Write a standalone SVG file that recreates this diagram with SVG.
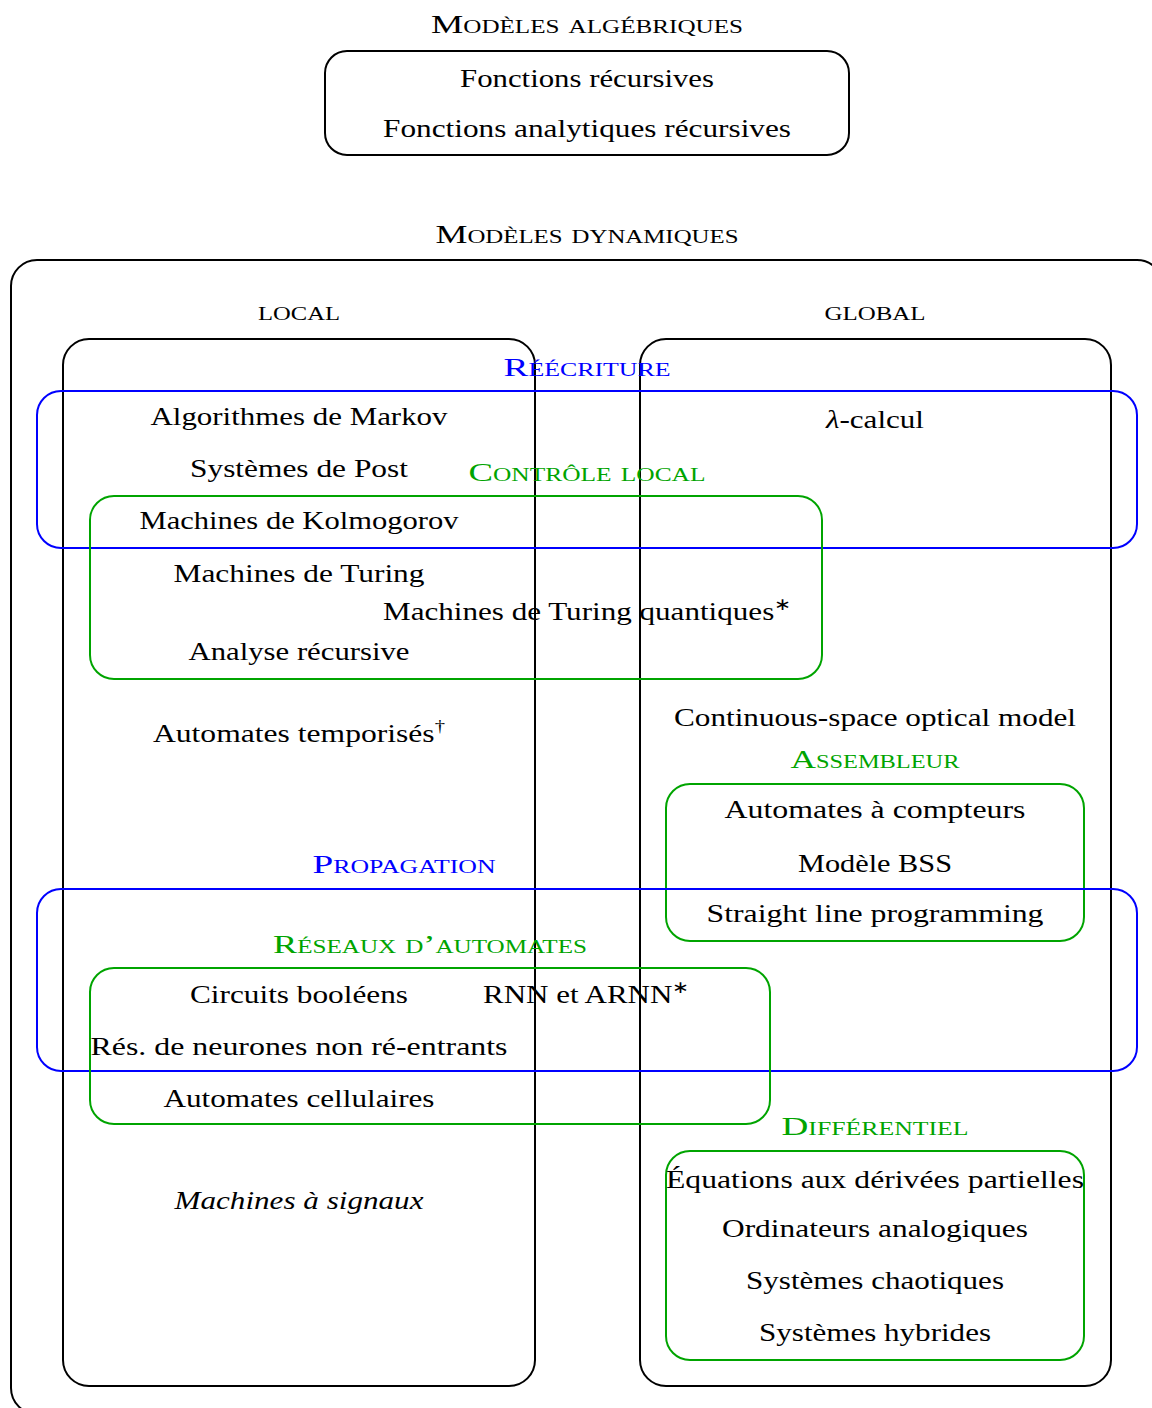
<svg xmlns="http://www.w3.org/2000/svg" width="1152" height="1408" viewBox="0 0 1152 1408">
<style>
text{font-family:"Liberation Serif","Times New Roman",serif;font-size:26px;fill:#000;text-anchor:middle}
.sc{font-variant:small-caps}
.blue{fill:#0000ff}
.green{fill:#00a400}
.it{font-style:italic}
.bk{fill:none;stroke:#000;stroke-width:2}
.bb{fill:none;stroke:#0000ff;stroke-width:2}
.gb{fill:none;stroke:#00a400;stroke-width:2}
</style>
<rect width="1152" height="1408" fill="#fff"/>
<g id="algebriques">
<text class="sc" x="587" y="33" textLength="312" lengthAdjust="spacingAndGlyphs">Modèles algébriques</text>
<rect class="bk" x="325" y="51" width="524" height="104" rx="22"/>
<text x="587" y="87" textLength="254" lengthAdjust="spacingAndGlyphs">Fonctions récursives</text>
<text x="587" y="137" textLength="408" lengthAdjust="spacingAndGlyphs">Fonctions analytiques récursives</text>
</g>
<g id="dynamiques">
<text class="sc" x="587" y="243" textLength="303" lengthAdjust="spacingAndGlyphs">Modèles dynamiques</text>
<rect class="bk" x="11" y="260" width="1152" height="1154" rx="26"/>
</g>
<g id="local">
<text class="sc" x="299" y="320" textLength="82" lengthAdjust="spacingAndGlyphs">local</text>
<rect class="bk" x="63" y="339" width="472" height="1047" rx="26"/>
</g>
<g id="global">
<text class="sc" x="875" y="320" textLength="101" lengthAdjust="spacingAndGlyphs">global</text>
<rect class="bk" x="640" y="339" width="471" height="1047" rx="26"/>
</g>
<g id="reecriture">
<text class="sc blue" x="587" y="376" textLength="167" lengthAdjust="spacingAndGlyphs">Réécriture</text>
<rect class="bb" x="37" y="391" width="1100" height="157" rx="24"/>
</g>
<g id="controle-local">
<text class="sc green" x="587" y="481" textLength="237" lengthAdjust="spacingAndGlyphs">Contrôle local</text>
<rect class="gb" x="90" y="496" width="732" height="183" rx="24"/>
</g>
<g id="assembleur">
<text class="sc green" x="875" y="768" textLength="169" lengthAdjust="spacingAndGlyphs">Assembleur</text>
<rect class="gb" x="666" y="784" width="418" height="157" rx="24"/>
</g>
<g id="propagation">
<text class="sc blue" x="404" y="873" textLength="183" lengthAdjust="spacingAndGlyphs">Propagation</text>
<rect class="bb" x="37" y="889" width="1100" height="182" rx="24"/>
</g>
<g id="reseaux">
<text class="sc green" x="430" y="953" textLength="314" lengthAdjust="spacingAndGlyphs">Réseaux d’automates</text>
<rect class="gb" x="90" y="968" width="680" height="156" rx="24"/>
</g>
<g id="differentiel">
<text class="sc green" x="875" y="1135" textLength="187" lengthAdjust="spacingAndGlyphs">Différentiel</text>
<rect class="gb" x="666" y="1151" width="418" height="209" rx="24"/>
</g>
<g id="models">
<text id="markov" x="299" y="425" textLength="297" lengthAdjust="spacingAndGlyphs">Algorithmes de Markov</text>
<text id="lambda" x="875" y="428" textLength="98" lengthAdjust="spacingAndGlyphs"><tspan font-style="italic">λ</tspan>-calcul</text>
<text id="post" x="299" y="477" textLength="218" lengthAdjust="spacingAndGlyphs">Systèmes de Post</text>
<text id="kolmogorov" x="299" y="529" textLength="319" lengthAdjust="spacingAndGlyphs">Machines de Kolmogorov</text>
<text id="turing" x="299" y="582" textLength="251" lengthAdjust="spacingAndGlyphs">Machines de Turing</text>
<text id="turing-q" x="587" y="620" textLength="408" lengthAdjust="spacingAndGlyphs">Machines de Turing quantiques<tspan font-size="17" dy="-10">∗</tspan></text>
<text id="analyse" x="299" y="660" textLength="221" lengthAdjust="spacingAndGlyphs">Analyse récursive</text>
<text id="temporises" x="299" y="742" textLength="292" lengthAdjust="spacingAndGlyphs">Automates temporisés<tspan font-size="17" dy="-10">†</tspan></text>
<text id="optical" x="875" y="726" textLength="402" lengthAdjust="spacingAndGlyphs">Continuous-space optical model</text>
<text id="compteurs" x="875" y="818" textLength="301" lengthAdjust="spacingAndGlyphs">Automates à compteurs</text>
<text id="bss" x="875" y="872" textLength="154" lengthAdjust="spacingAndGlyphs">Modèle BSS</text>
<text id="slp" x="875" y="922" textLength="337" lengthAdjust="spacingAndGlyphs">Straight line programming</text>
<text id="circuits" x="299" y="1003" textLength="218" lengthAdjust="spacingAndGlyphs">Circuits booléens</text>
<text id="rnn" x="586" y="1003" textLength="206" lengthAdjust="spacingAndGlyphs">RNN et ARNN<tspan font-size="17" dy="-10">∗</tspan></text>
<text id="neurones" x="299" y="1055" textLength="417" lengthAdjust="spacingAndGlyphs">Rés. de neurones non ré-entrants</text>
<text id="cellulaires" x="299" y="1107" textLength="271" lengthAdjust="spacingAndGlyphs">Automates cellulaires</text>
<text id="edp" x="875" y="1188" textLength="418" lengthAdjust="spacingAndGlyphs">Équations aux dérivées partielles</text>
<text id="analogiques" x="875" y="1237" textLength="306" lengthAdjust="spacingAndGlyphs">Ordinateurs analogiques</text>
<text id="chaotiques" x="875" y="1289" textLength="258" lengthAdjust="spacingAndGlyphs">Systèmes chaotiques</text>
<text id="hybrides" x="875" y="1341" textLength="232" lengthAdjust="spacingAndGlyphs">Systèmes hybrides</text>
<text id="signaux" class="it" x="299" y="1209" textLength="249" lengthAdjust="spacingAndGlyphs">Machines à signaux</text>
</g>
<g id="connectors"/>
</svg>
